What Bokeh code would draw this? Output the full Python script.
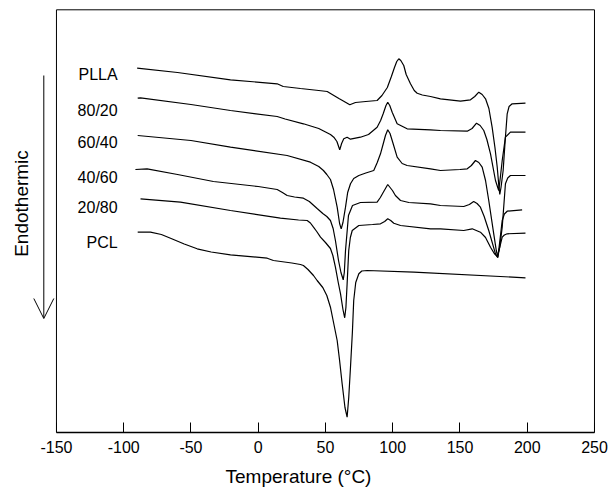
from math import pi
from bokeh.plotting import figure
from bokeh.models import Range1d, Label, Arrow, OpenHead, FixedTicker, BoxAnnotation
from bokeh.core.properties import value
from bokeh.embed import file_html
from bokeh.resources import INLINE

# ---- data (temperature in degC, heat flow in arbitrary units) ----
X_TICKS = [-150, -100, -50, 0, 50, 100, 150, 200, 250]

PLLA_T = [-90, -60, -20.6, 14.1, 18.6, 31.4, 45, 51.3, 55, 60, 63.6, 68.1, 72.3, 80, 88.4, 92, 96, 99, 101.3, 103, 104.5,
          106, 108.2, 110, 113.2, 116, 118.2, 122, 128.1, 135.5, 150.4, 157.8, 161, 164.0, 166.5, 169.0, 171.5, 173.9,
          176, 177.7, 179, 179.6, 180.5, 182.1, 183.5, 185.1, 186.5, 188.8, 198.7]
PLLA_Y = [364.3, 360, 352.7, 348.7, 346, 344, 342, 341, 338, 334, 331.3, 327.7, 330, 331, 332, 337, 345, 356, 365, 371, 373.7,
          372, 367, 358, 348.7, 342, 339.3, 337.5, 336, 333.7, 331.3, 332.7, 336, 340.3, 338, 333.7, 324, 305.3,
          285, 265.3, 245, 238, 245, 262, 290, 318.7, 326, 328.7, 329.3]

B8020_T = [-89.6, -87.5, -50, -20.6, 14.1, 20, 33.6, 45, 53.7, 56.2, 58.5, 60.6, 62, 63.6, 66.1, 68.6, 76, 82, 88.4, 91,
           92.9, 95, 96.3, 97.8, 99.6, 103.3, 110.7, 128.1, 135.5, 155.4, 159, 162.3, 165, 167.7, 170, 172.7, 176.4,
           178.8, 180, 181.4, 183.8, 187.5, 198.7]
B8020_Y = [334.3, 334.7, 328, 322, 316, 313.5, 308.7, 304, 298, 295.3, 291, 282.7, 289, 293.7, 295.3, 293.3, 295.3, 298,
           305.3, 312, 318.7, 327, 330.3, 327, 320.3, 308.7, 303.7, 302.7, 302, 301.3, 304, 309.3, 307, 302, 293, 278.7,
           252, 242, 255, 272, 295.3, 300.3, 300.3]

B6040_T = [-89.6, -50, -20.6, 21.5, 38.8, 45, 48.5, 51, 53.7, 56, 58.7, 60.5, 61.7, 63, 64.9, 66.5, 68.6, 71, 74.8, 80,
           85.9, 88.5, 90.9, 93, 94.6, 96.3, 98, 99.6, 103.3, 107, 110.7, 128.1, 135.5, 150, 155.4, 158.5, 161.5, 164,
           166.5, 169, 171.4, 175.1, 177, 178.1, 179.5, 181.4, 183.8, 185.5, 187.5, 198.7]
B6040_Y = [297, 292, 285.3, 277, 270.3, 266, 262, 258, 253, 243, 225.3, 209, 203.7, 210, 225.3, 240, 248.7, 254, 257,
           259.5, 262, 270, 278.7, 289, 297, 302.7, 299, 292, 275.3, 269, 267, 263.7, 262, 263, 263.7, 267, 272, 270,
           265.3, 252, 232, 198.7, 182, 175.3, 185, 205.3, 248.7, 254.5, 257, 257]

B4060_T = [-91.3, -82.6, -60, -33.3, 0, 14.1, 18, 21.5, 27, 33.6, 38, 43.8, 48, 51, 53.7, 55.7, 57.4, 59.7, 61.5, 63.2,
           64, 64.9, 67.1, 70.1, 76, 88.4, 90.8, 92.9, 96.3, 99.8, 102, 105.8, 112, 128.1, 135.5, 152.8, 157, 160.2,
           162.7, 165.2, 168, 171.4, 176.4, 178.1, 179.5, 181.4, 183, 185.1, 196.2]
B4060_Y = [263, 263.7, 258, 251, 246, 243, 240, 237, 235.5, 234.3, 231, 224, 219, 216, 212, 204, 192, 172, 160, 152.7,
           160, 182, 217, 227, 230, 230.3, 235, 240, 248, 242, 237, 232, 230, 228.7, 227, 226, 228, 231, 229, 225.3,
           216, 202, 178.7, 174.7, 190, 212, 218.5, 221.3, 222.7]

B2080_T = [-87.5, -57.8, -20.6, 16.5, 30, 36.4, 38.8, 41.1, 43.5, 46.3, 50, 53.7, 55.5, 57.4, 59.5, 61.2, 63, 64.3, 65.2,
           66.1, 67.3, 68.5, 69.9, 74.8, 85, 90.9, 94, 96.3, 98.5, 100.8, 105.8, 128.1, 135.5, 152.8, 159.1, 165.2, 169,
           172.7, 175.5, 177.7, 179.5, 181.4, 183, 185.1, 198.7]
B2080_Y = [233.7, 230.3, 222, 214.3, 212.5, 212, 209.5, 205.3, 201, 195.3, 190, 184, 177, 165.3, 150, 138.7, 123, 114.7,
           125, 148.7, 182, 195, 202, 207, 208, 208.7, 211, 213.7, 212, 209.3, 207, 203.7, 203.7, 202, 203.7, 200.3,
           195, 185.3, 179, 176, 185, 195.3, 197.5, 198.7, 199.3]

PCL_T = [-89.6, -80.1, -72, -65.2, -55, -45.4, -35, -20.6, 6.7, 11.3, 25, 31.4, 33.6, 37, 41.1, 43.8, 48, 51, 53.7, 56,
         58.7, 60.5, 62.4, 64.5, 66.1, 67.3, 68.6, 70, 71, 72.5, 74.8, 77, 81, 115.7, 198.7]
PCL_Y = [200.3, 200.3, 198, 194.3, 188.5, 183.7, 180.5, 177.7, 174.3, 172, 169.5, 168, 167, 163, 157, 152, 145, 137,
         125.3, 110, 92, 72, 48.7, 25, 15.3, 35, 65.3, 100, 132, 150, 158.7, 161.5, 162, 160.3, 154.7]

SERIES_NAMES = ["PLLA", "80/20", "60/40", "40/60", "20/80", "PCL"]
LABEL_Y = [358, 322, 290.3, 255.3, 225.3, 190]

X_MIN, X_MAX = -150, 250
Y_TOP = 422.7

FONT = "Liberation Sans"

p = figure(width=611, height=490, output_backend="svg", toolbar_location=None,
           x_range=Range1d(-191.6, 251.5), y_range=Range1d(0, 432),
           min_border_left=0, min_border_right=15, min_border_top=0, min_border_bottom=58)
p.background_fill_color = "white"
p.border_fill_color = "white"
p.grid.visible = False
p.yaxis.visible = False
p.outline_line_color = None

ax = p.xaxis[0]
ax.ticker = FixedTicker(ticks=X_TICKS)
ax.bounds = (X_MIN, X_MAX)
ax.major_label_overrides = {t: str(t) for t in X_TICKS}
ax.major_tick_in = 10
ax.major_tick_out = 0
ax.minor_tick_line_color = None
ax.axis_line_color = "black"
ax.axis_line_width = 1.5
ax.major_tick_line_color = "black"
ax.major_label_text_font = FONT
ax.major_label_text_font_size = "16px"
ax.major_label_text_color = "black"
ax.major_label_standoff = 8
ax.axis_label = "Temperature (\u00b0C)"
ax.axis_label_text_font = FONT
ax.axis_label_text_font_size = "19px"
ax.axis_label_text_font_style = "normal"
ax.axis_label_text_color = "black"
ax.axis_label_standoff = 10

# plot frame box from -150 to 250
p.add_layout(BoxAnnotation(left=X_MIN, right=X_MAX, bottom=0, top=Y_TOP,
                           fill_color=None, fill_alpha=0, line_color="black",
                           line_alpha=1, line_width=1))

curves = [(PLLA_T, PLLA_Y), (B8020_T, B8020_Y), (B6040_T, B6040_Y),
          (B4060_T, B4060_Y), (B2080_T, B2080_Y), (PCL_T, PCL_Y)]
for t, y in curves:
    p.line(t, y, line_color="black", line_width=1.2)

p.text(x=[-104.5] * len(SERIES_NAMES), y=LABEL_Y, text=SERIES_NAMES,
       text_align="right", text_baseline="middle", text_font=value(FONT),
       text_font_size="16px", text_color="black")

p.add_layout(Arrow(x_start=-159.4, y_start=357, x_end=-159.4, y_end=114,
                   line_color="black", line_width=1,
                   end=OpenHead(size=20, line_color="black", line_width=1)))
p.add_layout(Label(x=-176.2, y=229, text="Endothermic", angle=pi / 2,
                   text_align="center", text_baseline="middle",
                   text_font=FONT, text_font_size="19px", text_color="black"))

open("out.html", "w").write(file_html(p, INLINE))
